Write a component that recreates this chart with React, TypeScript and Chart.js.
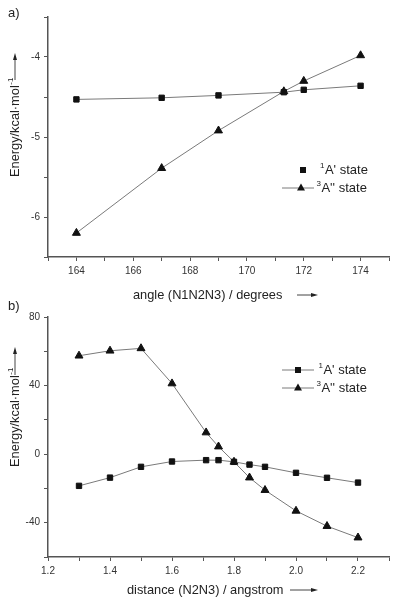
import React, { useEffect, useRef } from "react";
import { Chart, registerables } from "chart.js";

Chart.register(...registerables);

// ---- Data: panel a ----
const angleX = [164, 167, 169, 171.3, 172, 174];
const angleSinglet = [-4.53, -4.51, -4.48, -4.44, -4.41, -4.36];
const angleTriplet = [-6.2, -5.39, -4.92, -4.43, -4.3, -3.98];

// ---- Data: panel b ----
const distX = [1.3, 1.4, 1.5, 1.6, 1.71, 1.75, 1.8, 1.85, 1.9, 2.0, 2.1, 2.2];
const distSinglet = [-18.5, -13.7, -7.4, -4.3, -3.5, -3.5, -4.5, -6.1, -7.4, -10.9, -13.8, -16.6];
const distTriplet = [57.4, 60.3, 61.7, 41.2, 12.6, 4.4, -4.5, -13.7, -21.0, -33.1, -42.0, -48.7];

const seriesNames = ["A' state", "A'' state"];
const seriesSups = ["1", "3"];

const FONT = "'Liberation Sans', Arial, Helvetica, sans-serif";
const LINE = "#7a7a7a";
const MARK = "#111111";
const AXIS = "#555555";

type PanelCfg = {
  top: number;
  height: number;
  xs: number[];
  s1: number[];
  s3: number[];
  xMin: number;
  xMax: number;
  xStep: number;
  xLabel: (v: number) => string;
  yMin: number;
  yMax: number;
  yStep: number;
  yLabel: (v: number) => string;
  tag: string;
  tagY: number;
  xTitle: string;
  xTitleX: number;
  xTitleY: number;
  arrowX0: number;
  arrowX1: number;
  yTitleBottom: number;
  yArrow0: number;
  yArrow1: number;
  legendY: number;
  legendFirstLine: boolean;
};

function drawSquare(ctx: CanvasRenderingContext2D, x: number, y: number) {
  ctx.fillStyle = MARK;
  ctx.fillRect(x - 3, y - 3, 6, 6);
}
function drawTri(ctx: CanvasRenderingContext2D, x: number, y: number) {
  ctx.fillStyle = MARK;
  ctx.beginPath();
  ctx.moveTo(x, y - 4.5);
  ctx.lineTo(x - 4, y + 2.5);
  ctx.lineTo(x + 4, y + 2.5);
  ctx.closePath();
  ctx.fill();
}
function drawSupText(ctx: CanvasRenderingContext2D, x: number, y: number, sup: string, main: string) {
  ctx.fillStyle = "#222";
  ctx.textBaseline = "middle";
  ctx.textAlign = "left";
  ctx.font = `8px ${FONT}`;
  ctx.fillText(sup, x, y - 4);
  const w = ctx.measureText(sup).width;
  ctx.font = `13px ${FONT}`;
  ctx.fillText(main, x + w + 0.5, y);
}

function makeOverlay(cfg: PanelCfg) {
  return {
    id: "overlay",
    afterDraw(chart: any) {
      const ctx: CanvasRenderingContext2D = chart.ctx;
      ctx.save();
      // tag
      ctx.fillStyle = "#222";
      ctx.font = `13px ${FONT}`;
      ctx.textBaseline = "middle";
      ctx.textAlign = "left";
      ctx.fillText(cfg.tag, 8, cfg.tagY);

      // x title + arrow
      ctx.font = `12.8px ${FONT}`;
      ctx.fillText(cfg.xTitle, cfg.xTitleX, cfg.xTitleY);
      ctx.strokeStyle = "#444";
      ctx.lineWidth = 1;
      ctx.beginPath();
      ctx.moveTo(cfg.arrowX0, cfg.xTitleY);
      ctx.lineTo(cfg.arrowX1 - 5, cfg.xTitleY);
      ctx.stroke();
      ctx.fillStyle = "#222";
      ctx.beginPath();
      ctx.moveTo(cfg.arrowX1, cfg.xTitleY);
      ctx.lineTo(cfg.arrowX1 - 7, cfg.xTitleY - 2);
      ctx.lineTo(cfg.arrowX1 - 7, cfg.xTitleY + 2);
      ctx.closePath();
      ctx.fill();

      // y title (rotated) + arrow
      ctx.save();
      ctx.translate(15, cfg.yTitleBottom);
      ctx.rotate(-Math.PI / 2);
      ctx.fillStyle = "#222";
      ctx.font = `12.8px ${FONT}`;
      ctx.textBaseline = "middle";
      ctx.textAlign = "left";
      const main = "Energy/kcal·mol";
      ctx.fillText(main, 0, 0);
      const mw = ctx.measureText(main).width;
      ctx.font = `8px ${FONT}`;
      ctx.fillText("-1", mw + 0.5, -4.5);
      const a0 = cfg.yTitleBottom - cfg.yArrow0;
      const a1 = cfg.yTitleBottom - cfg.yArrow1;
      ctx.strokeStyle = "#444";
      ctx.beginPath();
      ctx.moveTo(a0, 0);
      ctx.lineTo(a1 - 5, 0);
      ctx.stroke();
      ctx.beginPath();
      ctx.moveTo(a1, 0);
      ctx.lineTo(a1 - 7, -2);
      ctx.lineTo(a1 - 7, 2);
      ctx.closePath();
      ctx.fill();
      ctx.restore();

      // legend
      const ly1 = cfg.legendY;
      const ly2 = cfg.legendY + 18;
      ctx.strokeStyle = LINE;
      ctx.lineWidth = 1;
      if (cfg.legendFirstLine) {
        ctx.beginPath();
        ctx.moveTo(282, ly1);
        ctx.lineTo(314, ly1);
        ctx.stroke();
        drawSquare(ctx, 298, ly1);
        drawSupText(ctx, 318.5, ly1, seriesSups[0], seriesNames[0]);
      } else {
        drawSquare(ctx, 303, ly1);
        drawSupText(ctx, 320, ly1, seriesSups[0], seriesNames[0]);
      }
      ctx.strokeStyle = LINE;
      ctx.beginPath();
      ctx.moveTo(282, ly2);
      ctx.lineTo(314, ly2);
      ctx.stroke();
      drawTri(ctx, cfg.legendFirstLine ? 298 : 301, ly2);
      drawSupText(ctx, 316.5, ly2, seriesSups[1], seriesNames[1]);
      ctx.restore();
    },
  };
}

function Panel({ cfg }: { cfg: PanelCfg }) {
  const ref = useRef<HTMLCanvasElement | null>(null);
  useEffect(() => {
    if (!ref.current) return;
    const toPts = (ys: number[]) => cfg.xs.map((x, i) => ({ x, y: ys[i] }));
    const chart = new Chart(ref.current, {
      type: "scatter",
      data: {
        datasets: [
          {
            label: seriesNames[0],
            data: toPts(cfg.s1),
            showLine: true,
            borderColor: LINE,
            borderWidth: 1,
            pointStyle: "rect",
            pointRadius: 3.8,
            pointBorderWidth: 1,
            pointBackgroundColor: MARK,
            pointBorderColor: MARK,
          },
          {
            label: seriesNames[1],
            data: toPts(cfg.s3),
            showLine: true,
            borderColor: LINE,
            borderWidth: 1,
            pointStyle: "triangle",
            pointRadius: 4.6,
            pointBorderWidth: 1,
            pointBackgroundColor: MARK,
            pointBorderColor: MARK,
          },
        ],
      },
      options: {
        responsive: false,
        animation: false,
        devicePixelRatio: 1,
        layout: { padding: { top: 17, right: 9, left: 0, bottom: 0 } },
        plugins: { legend: { display: false }, tooltip: { enabled: false } },
        scales: {
          x: {
            type: "linear",
            min: cfg.xMin,
            max: cfg.xMax,
            ticks: {
              stepSize: cfg.xStep,
              autoSkip: false,
              maxRotation: 0,
              padding: 4,
              color: "#333",
              font: { family: FONT, size: 10 },
              callback: (v: any) => cfg.xLabel(Number(v)),
            },
            grid: { drawOnChartArea: false, drawTicks: true, tickLength: 4, tickColor: AXIS, lineWidth: 1 },
            border: { display: true, color: AXIS, width: 1.5 },
            afterFit: (s: any) => {
              s.height = cfg.height - 257;
            },
          },
          y: {
            type: "linear",
            min: cfg.yMin,
            max: cfg.yMax,
            ticks: {
              stepSize: cfg.yStep,
              autoSkip: false,
              padding: 4,
              color: "#333",
              font: { family: FONT, size: 10 },
              callback: (v: any) => cfg.yLabel(Number(v)),
            },
            grid: { drawOnChartArea: false, drawTicks: true, tickLength: 4, tickColor: AXIS, lineWidth: 1 },
            border: { display: true, color: AXIS, width: 1.5 },
            afterFit: (s: any) => {
              s.width = 48;
            },
          },
        },
      } as any,
      plugins: [makeOverlay(cfg)],
    });
    return () => chart.destroy();
  }, [cfg]);
  return (
    <canvas
      ref={ref}
      width={398}
      height={cfg.height}
      style={{ display: "block", position: "absolute", left: 0, top: cfg.top, width: 398, height: cfg.height }}
    />
  );
}

const panelA: PanelCfg = {
  top: 0,
  height: 310,
  xs: angleX,
  s1: angleSinglet,
  s3: angleTriplet,
  xMin: 163,
  xMax: 175,
  xStep: 1,
  xLabel: (v) => (Math.round(v) % 2 === 0 ? String(Math.round(v)) : ""),
  yMin: -6.5,
  yMax: -3.5,
  yStep: 0.5,
  yLabel: (v) => (Math.abs(v - Math.round(v)) < 1e-6 ? String(Math.round(v)) : ""),
  tag: "a)",
  tagY: 13,
  xTitle: "angle (N1N2N3) / degrees",
  xTitleX: 133,
  xTitleY: 295,
  arrowX0: 297,
  arrowX1: 318,
  yTitleBottom: 177,
  yArrow0: 80,
  yArrow1: 53,
  legendY: 170,
  legendFirstLine: false,
};

const panelB: PanelCfg = {
  top: 300,
  height: 303,
  xs: distX,
  s1: distSinglet,
  s3: distTriplet,
  xMin: 1.2,
  xMax: 2.3,
  xStep: 0.1,
  xLabel: (v) => (Math.round(v * 10) % 2 === 0 ? v.toFixed(1) : ""),
  yMin: -60,
  yMax: 80,
  yStep: 20,
  yLabel: (v) => (Math.round(v) % 40 === 0 ? String(Math.round(v)) : ""),
  tag: "b)",
  tagY: 6,
  xTitle: "distance (N2N3) / angstrom",
  xTitleX: 127,
  xTitleY: 290,
  arrowX0: 290,
  arrowX1: 318,
  yTitleBottom: 167,
  yArrow0: 75,
  yArrow1: 47,
  legendY: 70,
  legendFirstLine: true,
};

export default function App() {
  return (
    <div style={{ position: "absolute", left: 0, top: 0, width: 398, height: 603, background: "#fff" }}>
      <Panel cfg={panelA} />
      <Panel cfg={panelB} />
    </div>
  );
}
